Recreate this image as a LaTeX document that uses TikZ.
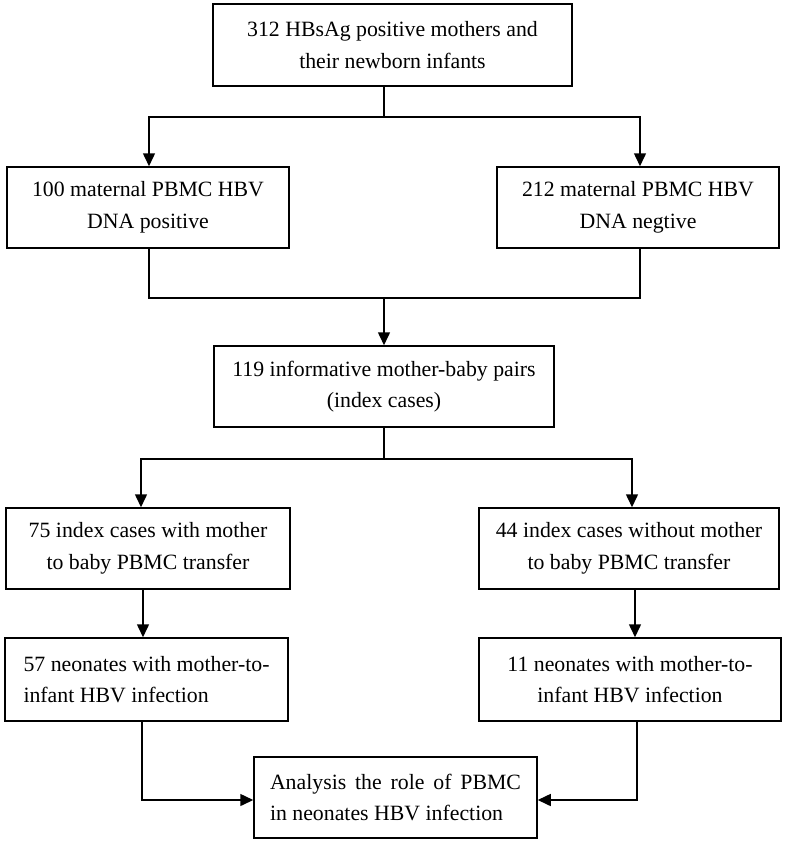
\documentclass[tikz,border=0pt]{standalone}
\usepackage{fontspec}
\setmainfont{Liberation Serif}
\usetikzlibrary{arrows.meta}

\begin{document}
\begin{tikzpicture}[x=1pt,y=-1pt,
	box/.style={draw, line width=1.5pt, inner sep=0pt, align=center,
		font=\fontsize{21.8pt}{31.5pt}\selectfont},
	arr/.style={line width=1.5pt, -{Triangle[width=12pt,length=13pt]}},
	link/.style={line width=1.5pt}]
	\useasboundingbox (0,0) rectangle (786,846);
	
	\node[box, minimum width=359pt, minimum height=82pt] (mothers) at (392.5,45) {312 HBsAg positive mothers and\\their newborn infants};
	\node[box, minimum width=282pt, minimum height=81pt] (pos) at (148,207.5) {100 maternal PBMC HBV\\DNA positive};
	\node[box, minimum width=282pt, minimum height=81pt] (neg) at (638,207.5) {212 maternal PBMC HBV\\DNA negtive};
	\node[box, minimum width=340pt, minimum height=81pt] (pairs) at (384,386.5) {119 informative mother-baby pairs\\(index cases)};
	\node[box, minimum width=284pt, minimum height=81pt] (with) at (148,548.5) {75 index cases with mother\\to baby PBMC transfer};
	\node[box, minimum width=300pt, minimum height=81pt] (without) at (629,548.5) {44 index cases without mother\\to baby PBMC transfer};
	\node[box, align=left, minimum width=283pt, minimum height=83pt] (infA) at (146.5,679.5) {57 neonates with mother-to-\\infant HBV infection};
	\node[box, minimum width=302pt, minimum height=83pt] (infB) at (630,679.5) {11 neonates with mother-to-\\infant HBV infection};
	\node[box, text width=251pt, align=justify, inner xsep=16pt, minimum height=81pt] (analysis) at (395.5,797.5) {Analysis the role of PBMC\linebreak in neonates HBV infection};
	
	\coordinate (j1) at (384,117);
	\coordinate (j2) at (384,298);
	\coordinate (j3) at (384,459);
	
	\draw[link] (mothers.south -| j1) -- (j1);
	\draw[arr] (j1) -| ([xshift=1pt]pos.north);
	\draw[arr] (j1) -| ([xshift=2pt]neg.north);
	
	\draw[link] ([xshift=1pt]pos.south) |- (j2);
	\draw[link] ([xshift=2pt]neg.south) |- (j2);
	\draw[arr] (j2) -- (pairs.north);
	
	\draw[link] (pairs.south) -- (j3);
	\draw[arr] (j3) -| ([xshift=-7pt]with.north);
	\draw[arr] (j3) -| ([xshift=3pt]without.north);
	
	\draw[arr] ([xshift=-5pt]with.south) -- ([xshift=-5pt]with.south |- infA.north);
	\draw[arr] ([xshift=6pt]without.south) -- ([xshift=6pt]without.south |- infB.north);
	
	\draw[arr] ([xshift=-4.5pt]infA.south) |- ([yshift=-2.5pt]analysis.west);
	\draw[arr] ([xshift=7pt]infB.south) |- ([yshift=-2.5pt]analysis.east);
\end{tikzpicture}
\end{document}
